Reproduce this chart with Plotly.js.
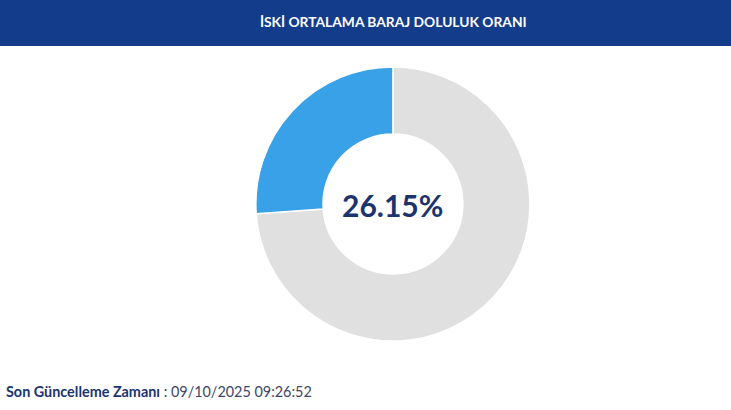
<!DOCTYPE html>
<html>
<head>
<meta charset="utf-8">
<script src="https://cdn.plot.ly/plotly-3.0.1.min.js"></script>
<style>
  html, body { margin: 0; padding: 0; background: #fff; }
  #chart { width: 731px; height: 410px; }
</style>
</head>
<body>
<div id="chart"></div>
<script>
// baraj doluluk verisi (boş kısım önce: mavi dilim saat 12'den sola açılsın)
const labels = ["Boş", "Doluluk"];
const values = [73.85, 26.15];
const sliceColors = ["#e0e0e0", "#38a1e8"];
const chartTitle = "İSKİ ORTALAMA BARAJ DOLULUK ORANI";
const centerLabel = "26.15%";
const updateLabel = "Son Güncelleme Zamanı";
const updateTime = "09/10/2025 09:26:52";

const trace = {
    type: "pie",
    labels: labels,
    values: values,
    hole: 0.51,
    sort: false,
    direction: "clockwise",
    rotation: 0,
    textinfo: "none",
    hoverinfo: "label+percent",
    marker: { colors: sliceColors, line: { color: "#ffffff", width: 1.5 } },
    domain: { x: [0.35, 0.725], y: [0.168, 0.837] }
};

const layout = {
    width: 731,
    height: 410,
    margin: { l: 0, r: 0, t: 0, b: 0 },
    paper_bgcolor: "#ffffff",
    showlegend: false,
    font: { family: "Lato, sans-serif" },
    title: {
        text: "<b>" + chartTitle + "</b>",
        font: { color: "#ffffff", size: 13.8, family: "Lato, sans-serif" },
        x: 0.538, xanchor: "center",
        y: 0.946, yanchor: "middle"
    },
    shapes: [{
        type: "rect", xref: "paper", yref: "paper", layer: "below",
        x0: 0, x1: 1, y0: 0.888, y1: 1,
        fillcolor: "#133c8b", line: { width: 0 }
    }],
    annotations: [
        {
            text: "<b>" + centerLabel + "</b>",
            x: 0.5376, y: 0.5, xref: "paper", yref: "paper",
            showarrow: false,
            font: { size: 30, color: "#1b3470", family: "Lato, sans-serif" }
        },
        {
            text: "<b>" + updateLabel + "</b> : <span style='color:#3a4766'>" + updateTime + "</span>",
            x: 0.005, y: 0.044, xref: "paper", yref: "paper",
            xanchor: "left", yanchor: "middle",
            showarrow: false,
            font: { size: 14.4, color: "#1b3470", family: "Lato, sans-serif" }
        }
    ]
};

Plotly.newPlot("chart", [trace], layout, { displayModeBar: false, staticPlot: true });
</script>
</body>
</html>
